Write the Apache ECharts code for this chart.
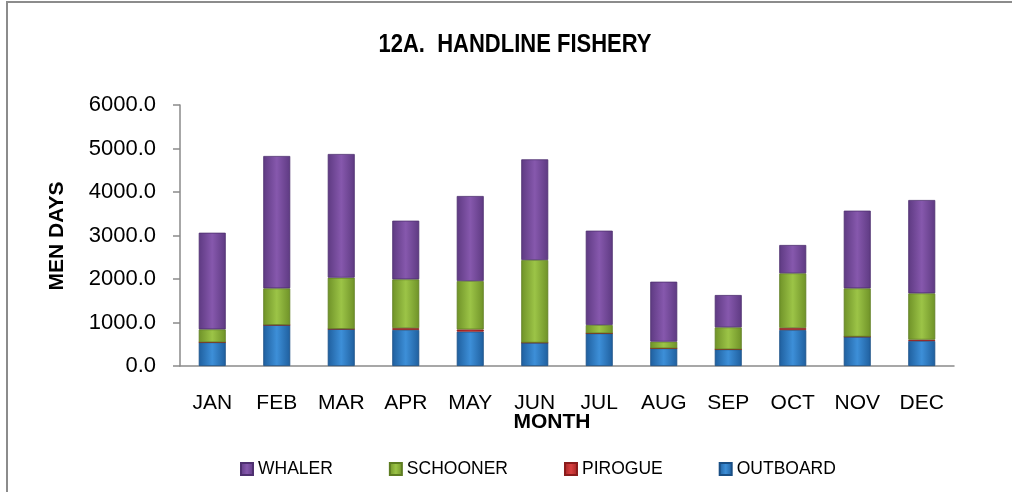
<!DOCTYPE html>
<html>
<head>
<meta charset="utf-8">
<script src="https://cdn.jsdelivr.net/npm/echarts@6/dist/echarts.min.js"></script>
<style>
  html, body { margin: 0; padding: 0; background: #fff; }
  #chart { width: 1012px; height: 492px; }
</style>
</head>
<body>
<div id="chart"></div>
<script>
// Monthly men-days for the handline fishery, by vessel type
const months = ['JAN', 'FEB', 'MAR', 'APR', 'MAY', 'JUN', 'JUL', 'AUG', 'SEP', 'OCT', 'NOV', 'DEC'];
const outboard = [545, 943, 851, 830, 790, 536, 751, 406, 383, 828, 674, 575];
const pirogue  = [0, 0, 0, 40, 50, 0, 0, 0, 0, 45, 0, 30];
const schooner = [298, 843, 1179, 1123, 1114, 1901, 192, 153, 506, 1258, 1112, 1066];
const whaler   = [2221, 3042, 2844, 1348, 1954, 2314, 2168, 1379, 743, 651, 1785, 2145];
const yTicks = { min: 0, max: 6000, step: 1000 };

const regular = '"Liberation Sans", Arial, sans-serif';

function shade(dark, light) {
  return new echarts.graphic.LinearGradient(0, 0, 1, 0, [
    { offset: 0, color: dark },
    { offset: 0.5, color: light },
    { offset: 1, color: dark }
  ]);
}

function barSeries(name, data, dark, light, border) {
  return {
    name: name,
    type: 'bar',
    stack: 'total',
    barWidth: 27,
    data: data,
    itemStyle: { color: shade(dark, light), borderColor: border, borderWidth: 0.8 }
  };
}

const chart = echarts.init(document.getElementById('chart'), null, { renderer: 'canvas' });
chart.setOption({
  animation: false,
  backgroundColor: '#ffffff',
  grid: { left: 180, right: 58, top: 105, bottom: 126 },
  legend: {
    data: ['WHALER', 'SCHOONER', 'PIROGUE', 'OUTBOARD'],
    left: 235,
    top: 455,
    itemWidth: 12,
    itemHeight: 12,
    itemGap: 56,
    icon: 'rect',
    textStyle: { fontFamily: regular, fontSize: 17.5, color: '#000' }
  },
  xAxis: {
    type: 'category',
    data: months,
    axisLine: { lineStyle: { color: '#8a8a8a', width: 1.5 } },
    axisTick: { length: 6, lineStyle: { color: '#8a8a8a', width: 1.5 } },
    axisLabel: { margin: 27, fontFamily: regular, fontSize: 21, color: '#000' }
  },
  yAxis: {
    type: 'value',
    min: yTicks.min,
    max: yTicks.max,
    interval: yTicks.step,
    splitLine: { show: false },
    axisLine: { show: true, lineStyle: { color: '#8a8a8a', width: 1.5 } },
    axisTick: { show: true, length: 7, lineStyle: { color: '#8a8a8a', width: 1.5 } },
    axisLabel: {
      margin: 24,
      fontFamily: regular,
      fontSize: 22,
      color: '#000',
      formatter: v => v.toFixed(1)
    }
  },
  graphic: [
    {
      type: 'rect',
      shape: { x: 7, y: 2, width: 1200, height: 700 },
      style: { fill: null, stroke: '#8c8c8c', lineWidth: 2 },
      silent: true
    },
    {
      // chart title, slightly condensed
      type: 'text',
      x: 515,
      y: 45,
      scaleX: 0.88,
      style: {
        text: '12A.  HANDLINE FISHERY',
        fontFamily: regular,
        fontWeight: 'bold',
        fontSize: 25,
        fill: '#000',
        align: 'center',
        verticalAlign: 'middle'
      }
    },
    {
      type: 'text',
      x: 57,
      y: 236,
      rotation: Math.PI / 2,
      style: {
        text: 'MEN DAYS',
        fontFamily: regular,
        fontWeight: 'bold',
        fontSize: 21,
        fill: '#000',
        align: 'center',
        verticalAlign: 'middle'
      }
    },
    {
      type: 'text',
      x: 552,
      y: 422,
      style: {
        text: 'MONTH',
        fontFamily: regular,
        fontWeight: 'bold',
        fontSize: 21,
        fill: '#000',
        align: 'center',
        verticalAlign: 'middle'
      }
    }
  ],
  series: [
    barSeries('OUTBOARD', outboard, '#1f5f9e', '#3d8fd8', '#1a4f85'),
    barSeries('PIROGUE', pirogue, '#a32222', '#d94040', '#8a1c1c'),
    barSeries('SCHOONER', schooner, '#6f9228', '#9cc447', '#5e7d22'),
    barSeries('WHALER', whaler, '#5e3a82', '#8658ad', '#4e3070')
  ]
});
</script>
</body>
</html>
